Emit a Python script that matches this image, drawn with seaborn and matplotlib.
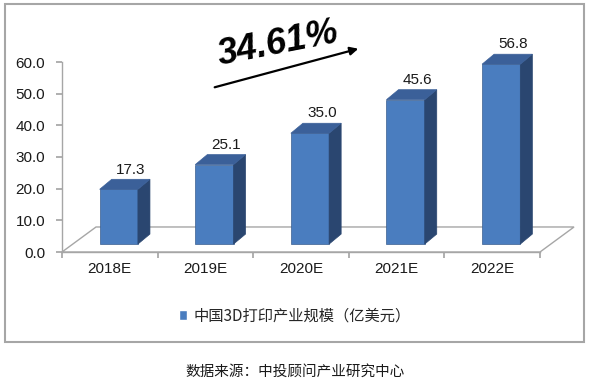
import seaborn as sns
import matplotlib.pyplot as plt
from matplotlib.patches import Polygon, Rectangle, Patch
import pandas as pd

years = ['2018E', '2019E', '2020E', '2021E', '2022E']
values = [17.3, 25.1, 35.0, 45.6, 56.8]
value_labels = ['17.3', '25.1', '35.0', '45.6', '56.8']
yticks = [0, 10, 20, 30, 40, 50, 60]
series_name = '中国3D打印产业规模（亿美元）'
growth_text = '34.61%'
source_text = '数据来源：中投顾问产业研究中心'

front_c = '#4a7dbf'
top_c = '#3b6099'
side_c = '#2a4670'
frame_c = '#a6a6a6'

sns.set_theme(style='white')
plt.rcParams['font.family'] = ['Liberation Sans', 'Noto Sans CJK SC', 'DejaVu Sans']

fig = plt.figure(figsize=(5.91, 3.84), dpi=100)
ax = fig.add_axes([62/591, 1-252/384, 478/591, 190/384])

dt = pd.DataFrame({'year': years, 'value': values})
sns.barplot(x='year', y='value', data=dt, color=front_c, saturation=1, width=0.4, ax=ax, zorder=3)

# fake 3D offsets (data units)
off_x, off_y = 0.094, 2.5      # bar front face sits a bit behind the axis
dep_x, dep_y = 0.126, 3.16     # bar depth
fl_x, fl_y = 0.356, 7.9        # floor depth

ax.set_xlim(-0.5, 4.5)
ax.set_ylim(0, 60)

# floor
floor = Polygon([(-0.5, 0), (-0.5+fl_x, fl_y), (4.5+fl_x, fl_y), (4.5, 0)],
                closed=True, facecolor='white', edgecolor=frame_c, lw=1, zorder=1, clip_on=False)
ax.add_patch(floor)

for p, v, lab in zip(ax.patches[:len(values)], values, value_labels):
    x0 = p.get_x() + off_x
    y0 = off_y
    w = p.get_width()
    p.set_x(x0)
    p.set_y(y0)
    p.set_height(v)
    p.set_clip_on(False)
    p.set_edgecolor('#3a5f90')
    p.set_linewidth(0.5)
    side = Polygon([(x0+w, y0), (x0+w+dep_x, y0+dep_y), (x0+w+dep_x, y0+v+dep_y), (x0+w, y0+v)],
                   closed=True, facecolor=side_c, edgecolor=side_c, lw=0.5, zorder=3, clip_on=False)
    top = Polygon([(x0, y0+v), (x0+dep_x, y0+v+dep_y), (x0+w+dep_x, y0+v+dep_y), (x0+w, y0+v)],
                  closed=True, facecolor=top_c, edgecolor=top_c, lw=0.5, zorder=3, clip_on=False)
    ax.add_patch(side)
    ax.add_patch(top)
    ax.annotate(lab, (x0 + w/2 + dep_x, y0 + v + dep_y), xytext=(0, 2), textcoords='offset points',
                ha='center', va='bottom', fontsize=11, color='#1a1a1a', annotation_clip=False)

ax.set_yticks(yticks)
ax.set_yticklabels([f'{t:.1f}' for t in yticks], fontsize=11, color='#1a1a1a')
ax.set_xticks([-0.5, 0.5, 1.5, 2.5, 3.5, 4.5], minor=False)
ax.set_xticklabels([])
ax.set_xticks(range(len(years)), minor=True)
ax.set_xticklabels(years, minor=True, fontsize=11, color='#1a1a1a')
ax.tick_params(axis='x', which='minor', length=0, pad=7)
ax.tick_params(axis='x', which='major', direction='out', length=4, color=frame_c, bottom=True)
ax.tick_params(axis='y', direction='out', length=4, color=frame_c, left=True, pad=8)
ax.set_xlabel('')
ax.set_ylabel('')
for s in ['top', 'right']:
    ax.spines[s].set_visible(False)
for s in ['left', 'bottom']:
    ax.spines[s].set_color(frame_c)
    ax.spines[s].set_linewidth(1)

# growth annotation
fig.text(278/591, 1-44/384, growth_text, fontsize=26, fontweight='bold', fontstyle='italic',
         rotation=11, ha='center', va='center', color='black')
ax.annotate('', xy=(361/591, 1-48/384), xytext=(212/591, 1-88/384),
            xycoords='figure fraction', textcoords='figure fraction',
            arrowprops=dict(arrowstyle='-|>', color='black', lw=1.6, mutation_scale=12))

# legend
ax.legend(handles=[Patch(facecolor=front_c)], labels=[series_name], frameon=False,
          loc='center left', bbox_to_anchor=(165/591, 1-316/384), bbox_transform=fig.transFigure,
          handlelength=0.55, handleheight=0.55, handletextpad=0.4,
          prop={'family': ['Noto Sans CJK SC'], 'size': 11})

# outer frame
fig.patches.append(Rectangle((5/591, 1-342/384), 579/591, 338/384, transform=fig.transFigure,
                             facecolor='none', edgecolor=frame_c, lw=1.5, zorder=0))

fig.text(295/591, 1-372/384, source_text, fontsize=10.5, ha='center', va='center',
         family=['Noto Sans CJK SC'], fontweight='medium', color='#1a1a1a')

fig.savefig('out.png', dpi=100)
